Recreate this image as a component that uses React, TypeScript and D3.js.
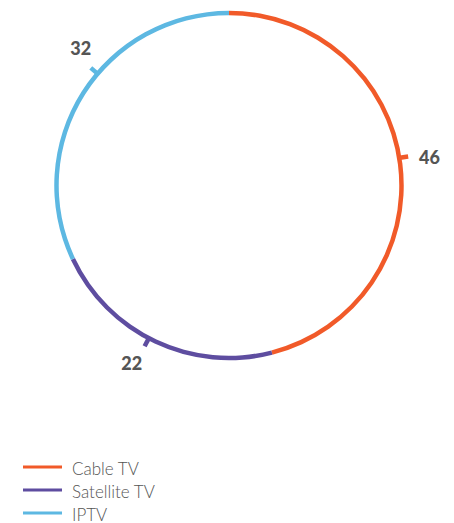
import React from "react";
import * as d3 from "d3";

const categories = ["Cable TV", "Satellite TV", "IPTV"];
const values = [46, 22, 32];
const colors = ["#F15A29", "#5E4DA0", "#5DB8E2"];
// small angular nudges (degrees) for tick and label placement
const tickNudge = [-2, 2.5, 8];
const textNudge = [1, 1, 2.5];

const W = 454;
const H = 523;
const cx = 229;
const cy = 185.5;
const R = 172.5;
const SW = 4.5;

export default function App() {
  const pie = d3
    .pie<number>()
    .sort(null)
    .value((d) => d)
    .startAngle(0)
    .endAngle(2 * Math.PI);
  const arcs = pie(values);
  const arc = d3
    .arc<d3.PieArcDatum<number>>()
    .innerRadius(R - SW / 2)
    .outerRadius(R + SW / 2);

  const legendY = d3
    .scalePoint<string>()
    .domain(categories)
    .range([467, 513]);

  return (
    <svg
      width={W}
      height={H}
      style={{ position: "absolute", left: 0, top: 0, background: "#fff" }}
    >
      <g transform={`translate(${cx},${cy})`}>
        {arcs.map((a, i) => (
          <path key={i} d={arc(a) || ""} fill={colors[i]} />
        ))}
        {arcs.map((a, i) => {
          const mid = (a.startAngle + a.endAngle) / 2;
          const ang = mid + (tickNudge[i] * Math.PI) / 180;
          const tang = ang + (textNudge[i] * Math.PI) / 180;
          const sx = Math.sin(ang);
          const sy = -Math.cos(ang);
          const r0 = R - 1;
          const r1 = R + 9;
          const rl = R + 30;
          return (
            <g key={"l" + i}>
              <line
                x1={sx * r0}
                y1={sy * r0}
                x2={sx * r1}
                y2={sy * r1}
                stroke={colors[i]}
                strokeWidth={4.5}
              />
              <text
                x={Math.sin(tang) * rl}
                y={-Math.cos(tang) * rl}
                textAnchor="middle"
                dominantBaseline="central"
                fontFamily="Lato, 'Open Sans', sans-serif"
                fontWeight={900}
                fontSize={18}
                fill="#555555"
              >
                {values[i]}
              </text>
            </g>
          );
        })}
      </g>
      <g>
        {categories.map((c, i) => (
          <g key={c} transform={`translate(0,${legendY(c)})`}>
            <line x1={23} x2={62} y1={0} y2={0} stroke={colors[i]} strokeWidth={3} />
            <text
              x={72}
              y={1}
              dominantBaseline="central"
              fontFamily="Lato, 'Open Sans', sans-serif"
              fontWeight={300}
              fontSize={17}
              fill="#555555"
            >
              {c}
            </text>
          </g>
        ))}
      </g>
    </svg>
  );
}
